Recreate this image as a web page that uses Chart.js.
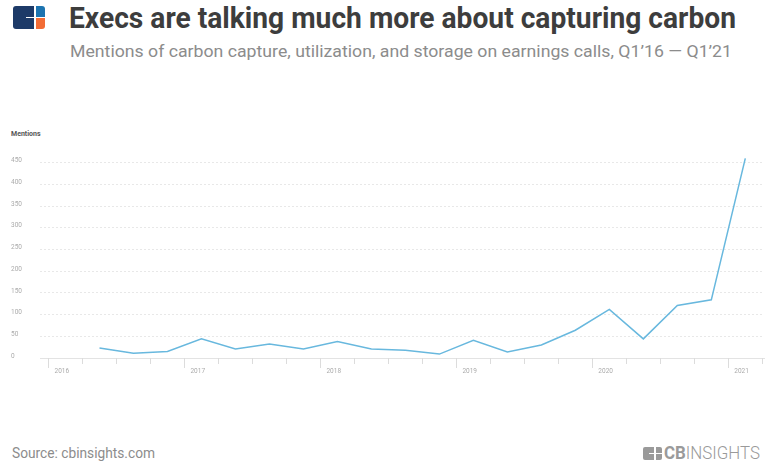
<!DOCTYPE html>
<html>
<head>
<meta charset="utf-8">
<script src="https://cdn.jsdelivr.net/npm/chart.js@4.4.1/dist/chart.umd.min.js"></script>
<style>
  html, body { margin: 0; padding: 0; background: #fff; }
  body { width: 768px; height: 467px; position: relative; overflow: hidden; font-family: Roboto, "Noto Sans", sans-serif; }
  .abs { position: absolute; white-space: nowrap; transform-origin: 0 0; }
  #titulo { left: 69px; top: 3.5px; font-size: 29.5px; line-height: 1; font-weight: 700; color: #3d3d3d; }
  #subtitulo { left: 70px; top: 43.4px; font-size: 17px; line-height: 1; color: #8c8c8c; }
  #mentions { left: 11px; top: 131px; font-size: 7px; font-weight: 700; color: #555; line-height: 1; }
  #fuente { left: 12px; top: 446px; font-size: 14px; color: #8c8c8c; line-height: 1; }
  #grafico { position: absolute; left: 0; top: 144px; }
  .logo { position: absolute; }
</style>
</head>
<body>
<!-- logo arriba a la izquierda -->
<div class="logo" style="left:13px;top:6px;width:21px;height:23px;background:#1d3a68;border-radius:3px 0 0 3px;"></div>
<div class="logo" style="left:26px;top:16.5px;width:8px;height:1.8px;background:#fff;"></div>
<div class="logo" style="left:36px;top:6px;width:9px;height:10.5px;background:#1c74b0;border-radius:0 3px 0 0;"></div>
<div class="logo" style="left:36px;top:18.3px;width:9px;height:10.7px;background:#f26c35;border-radius:0 0 3px 0;"></div>

<div id="titulo" class="abs">Execs are talking much more about capturing carbon</div>
<div id="subtitulo" class="abs">Mentions of carbon capture, utilization, and storage on earnings calls, Q1’16 — Q1’21</div>
<div id="mentions" class="abs">Mentions</div>

<canvas id="grafico" width="768" height="241"></canvas>

<div id="fuente" class="abs">Source: cbinsights.com</div>

<!-- logo CB Insights abajo -->
<div class="logo" style="left:643px;top:447px;width:11px;height:13px;background:#9a9a9a;border-radius:2px 0 0 2px;"></div>
<div class="logo" style="left:649px;top:452.8px;width:5px;height:1.4px;background:#fff;"></div>
<div class="logo" style="left:655.5px;top:447px;width:6px;height:5.8px;background:#9a9a9a;border-radius:0 2px 0 0;"></div>
<div class="logo" style="left:655.5px;top:454.2px;width:6px;height:5.8px;background:#9a9a9a;border-radius:0 0 2px 0;"></div>
<div id="cbtexto" class="abs" style="left:664px;top:444px;font-size:18px;line-height:1;color:#9a9a9a;"><span style="font-weight:700">CB</span><span style="font-weight:300">INSIGHTS</span></div>

<script>
// Datos: menciones por trimestre
var trimestres = ["Q2'16", "Q3'16", "Q4'16", "Q1'17", "Q2'17", "Q3'17", "Q4'17",
                  "Q1'18", "Q2'18", "Q3'18", "Q4'18", "Q1'19", "Q2'19", "Q3'19", "Q4'19",
                  "Q1'20", "Q2'20", "Q3'20", "Q4'20", "Q1'21"];
var menciones = [23, 11, 15, 44, 21, 32, 21, 38, 21, 18, 9, 41, 14, 30, 64, 112, 44, 121, 134, 460];
var anios = ['2016', '2017', '2018', '2019', '2020', '2021'];
var ticksY = [0, 50, 100, 150, 200, 250, 300, 350, 400, 450];

// Ajusta el ancho del texto (fuente condensada simulada)
function ajustarAncho(id, ancho) {
  var el = document.getElementById(id);
  var w = el.getBoundingClientRect().width;
  el.style.transform = 'scaleX(' + (ancho / w) + ')';
}
ajustarAncho('titulo', 667);
ajustarAncho('subtitulo', 662);
ajustarAncho('fuente', 143);
ajustarAncho('cbtexto', 96);

// Posicion del trimestre en el eje (en trimestres desde 2016, al centro)
function posicion(t) {
  var q = parseInt(t.charAt(1), 10);
  var a = 2000 + parseInt(t.slice(3), 10);
  return (a - 2016) * 4 + (q - 1) + 0.5;
}

// Marcas de trimestre en el eje X
var marcasEje = {
  id: 'marcasEje',
  afterDraw: function (chart) {
    var x = chart.scales.x;
    var ctx = chart.ctx;
    var base = chart.chartArea.bottom;
    var total = (anios.length - 1) * 4 + 1;
    ctx.save();
    ctx.strokeStyle = '#dcdcdc';
    ctx.lineWidth = 1;
    for (var i = 0; i <= total; i++) {
      var px = Math.round(x.getPixelForValue(i)) + 0.5;
      ctx.beginPath();
      ctx.moveTo(px, base);
      ctx.lineTo(px, base + (i % 4 === 0 ? 10 : 6));
      ctx.stroke();
    }
    ctx.restore();
  }
};

var ctxLinea = document.getElementById('grafico').getContext('2d');
new Chart(ctxLinea, {
  type: 'line',
  data: {
    datasets: [{
      label: 'Mentions',
      data: trimestres.map(function (t, i) { return { x: posicion(t), y: menciones[i] }; }),
      borderColor: '#68b8de',
      borderWidth: 1.5,
      pointRadius: 0,
      tension: 0,
      fill: false
    }]
  },
  options: {
    responsive: false,
    animation: false,
    layout: { padding: { left: 11, right: 4, top: 10, bottom: 0 } },
    plugins: { legend: { display: false }, tooltip: { enabled: false } },
    scales: {
      x: {
        type: 'linear',
        min: -0.25,
        max: 21.05,
        afterBuildTicks: function (s) { s.ticks = anios.map(function (a, i) { return { value: i * 4 }; }); },
        afterFit: function (s) { s.height = 27; },
        grid: { display: true, drawOnChartArea: false, drawTicks: false },
        border: { display: true, color: '#e3e3e3' },
        ticks: {
          align: 'start',
          labelOffset: 6,
          padding: 9,
          autoSkip: false,
          maxRotation: 0,
          color: '#ababab',
          font: { family: 'Roboto', size: 6.5 },
          callback: function (v) { return anios[Math.round(v / 4)]; }
        }
      },
      y: {
        min: 0,
        max: 470,
        afterBuildTicks: function (s) { s.ticks = ticksY.map(function (v) { return { value: v }; }); },
        afterFit: function (s) { s.width = 29; },
        grid: {
          color: function (c) { return c.tick && c.tick.value === 0 ? 'rgba(0,0,0,0)' : '#e8e8e8'; },
          drawTicks: false,
          lineWidth: 1
        },
        border: { display: false, dash: [2, 2] },
        ticks: {
          crossAlign: 'far',
          padding: 0,
          labelOffset: -2,
          color: '#ababab',
          font: { family: 'Roboto', size: 6.5 }
        }
      }
    }
  },
  plugins: [marcasEje]
});
</script>
</body>
</html>
